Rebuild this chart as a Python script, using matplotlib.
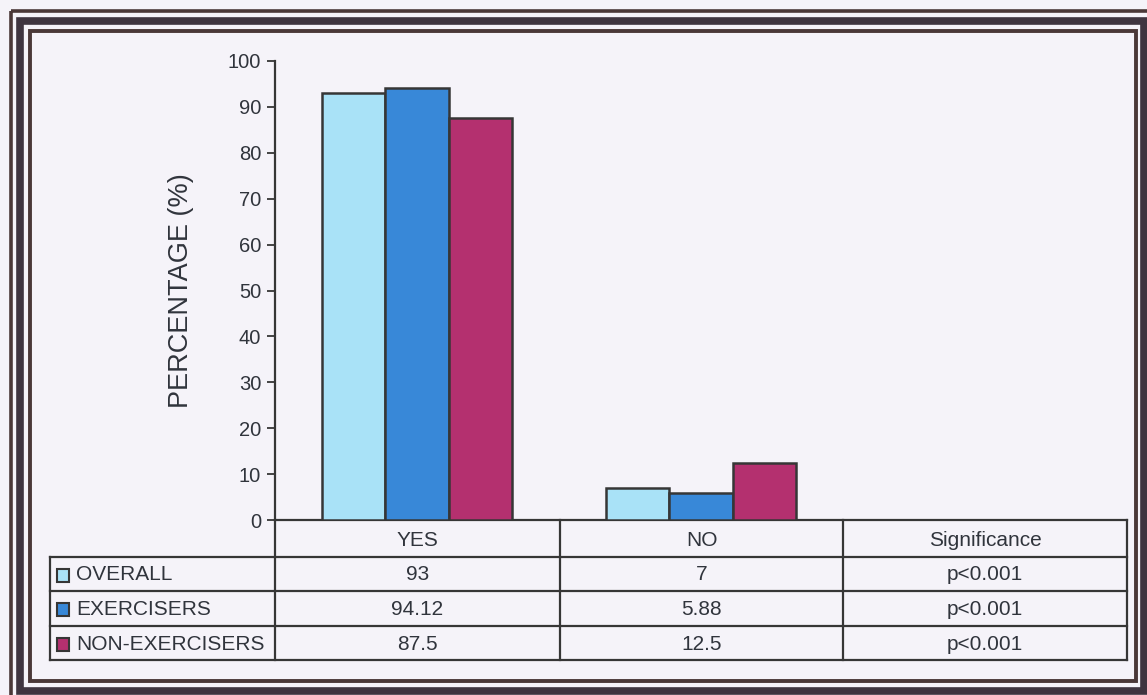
import matplotlib
matplotlib.use("Agg")
import matplotlib.pyplot as plt
from matplotlib.patches import Rectangle
import numpy as np

plt.rcParams['font.family'] = ['Liberation Sans', 'DejaVu Sans']

categories = ["YES", "NO", "Significance"]
series_names = ["OVERALL", "EXERCISERS", "NON-EXERCISERS"]
overall = [93, 7]
exercisers = [94.12, 5.88]
non_exercisers = [87.5, 12.5]
table_overall = ["93", "7", "p<0.001"]
table_exercisers = ["94.12", "5.88", "p<0.001"]
table_non_exercisers = ["87.5", "12.5", "p<0.001"]
yticks = [0, 10, 20, 30, 40, 50, 60, 70, 80, 90, 100]
ylabel = "PERCENTAGE (%)"

colors = ["#a9e2f7", "#3888d8", "#b4306f"]
edge = "#363636"
txt = "#30343c"
bg = "#f5f3f9"

W, H = 1147, 695
fig = plt.figure(figsize=(W / 100, H / 100), dpi=100, facecolor=bg)

# plot axes
x0, x1, ytop, ybot = 275, 1127, 61, 520
ax = fig.add_axes([x0 / W, 1 - ybot / H, (x1 - x0) / W, (ybot - ytop) / H])
ax.set_facecolor("none")
ax.set_xlim(0, 3)
ax.set_ylim(0, 100)
bw = 0.224
series = [overall, exercisers, non_exercisers]
centers = np.arange(2) + 0.5
for i, vals in enumerate(series):
    ax.bar(centers + (i - 1) * bw, vals, width=bw, color=colors[i],
           edgecolor=edge, linewidth=1.8, zorder=3)
ax.set_yticks(yticks)
ax.set_yticklabels([str(t) for t in yticks], fontsize=14.5, color=txt)
ax.tick_params(axis='y', length=6, width=1.3, color=edge, pad=4)
ax.set_xticks([])
for s in ["top", "right"]:
    ax.spines[s].set_visible(False)
ax.spines["left"].set_linewidth(1.6)
ax.spines["left"].set_color(edge)
ax.spines["bottom"].set_linewidth(1.6)
ax.spines["bottom"].set_color(edge)
ax.set_ylabel(ylabel, fontsize=19.5, color=txt, labelpad=24)

# overlay axes in pixel coordinates
ov = fig.add_axes([0, 0, 1, 1])
ov.set_xlim(0, W)
ov.set_ylim(H, 0)
ov.axis("off")
ov.set_facecolor("none")

# frame
fc = "#4a3838"
ov.add_patch(Rectangle((11, 11), 1160, 700, fill=False, lw=2.6, ec=fc))
ov.add_patch(Rectangle((20, 21), 1124, 670, fill=False, lw=5.5, ec="#3f3540"))
ov.add_patch(Rectangle((30, 31), 1105.5, 649.5, fill=False, lw=2.8, ec=fc))

# table
colx = [275, 560, 843, 1127]
rows_y = [520, 557, 591, 626, 660]
lw = 1.6
for cx in colx:
    ov.plot([cx, cx], [rows_y[0], rows_y[-1]], color=edge, lw=lw)
ov.plot([50, 50], [rows_y[1], rows_y[-1]], color=edge, lw=lw)
for ry in rows_y[1:]:
    ov.plot([50, 1127], [ry, ry], color=edge, lw=lw)
fs = 15
for j, c in enumerate(categories):
    ov.text((colx[j] + colx[j + 1]) / 2, (rows_y[0] + rows_y[1]) / 2 + 2, c,
            ha="center", va="center", fontsize=fs, color=txt)
table_rows = [table_overall, table_exercisers, table_non_exercisers]
for r, (name, vals) in enumerate(zip(series_names, table_rows)):
    yc = (rows_y[r + 1] + rows_y[r + 2]) / 2 + 1
    ov.add_patch(Rectangle((57, yc - 6.5), 12, 13, fc=colors[r], ec=edge, lw=1.5))
    ov.text(76, yc, name, ha="left", va="center", fontsize=fs, color=txt)
    for j, v in enumerate(vals):
        ov.text((colx[j] + colx[j + 1]) / 2, yc, v, ha="center", va="center",
                fontsize=fs, color=txt)

fig.savefig("out.png", dpi=100, facecolor=bg)
